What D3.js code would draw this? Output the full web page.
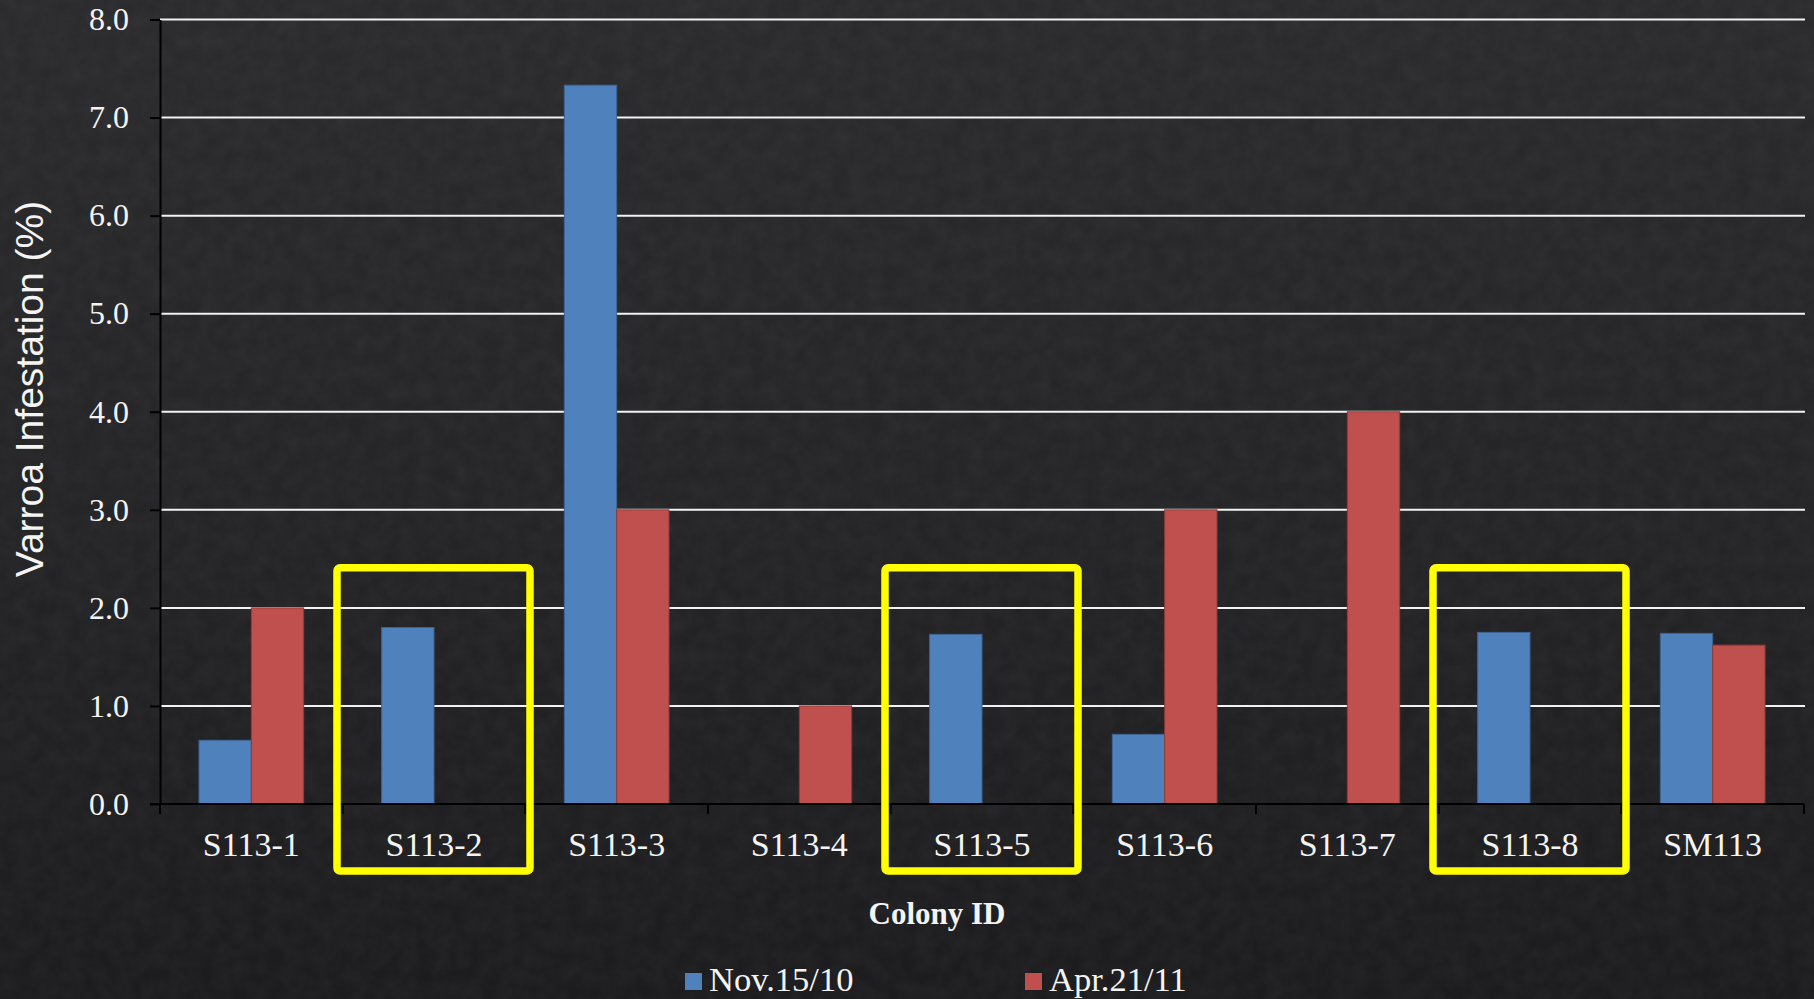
<!DOCTYPE html>
<html>
<head>
<meta charset="utf-8">
<script src="https://cdn.jsdelivr.net/npm/d3@7"></script>
<style>
  html, body { margin: 0; padding: 0; background: #222224; }
  svg { display: block; }
</style>
</head>
<body>
<svg id="chart" width="1814" height="999"></svg>
<script>
// Colony IDs along the x axis
const colonies = ["S113-1", "S113-2", "S113-3", "S113-4", "S113-5", "S113-6", "S113-7", "S113-8", "SM113"];
// Varroa infestation (%) per sampling date
const nov15 = [0.65, 1.80, 7.33, 0, 1.73, 0.71, 0, 1.75, 1.74];
const apr21 = [2.00, 0, 3.00, 1.00, 0, 3.00, 4.00, 0, 1.62];
const seriesNames = ["Nov.15/10", "Apr.21/11"];
const yTicks = [0, 1, 2, 3, 4, 5, 6, 7, 8];
// Colonies outlined in yellow
const highlighted = ["S113-2", "S113-5", "S113-8"];

const W = 1814, H = 999;
const margin = { top: 19.5, right: 10, bottom: 195, left: 160 };
const plotW = 1804 - margin.left;
const plotH = 804 - margin.top;

const svg = d3.select("#chart");

// Background: dark charcoal with a faint mottled texture
const defs = svg.append("defs");
const grad = defs.append("linearGradient").attr("id", "bg").attr("x1", 0).attr("y1", 0).attr("x2", 0).attr("y2", 1);
grad.append("stop").attr("offset", "0%").attr("stop-color", "#2b2b2d");
grad.append("stop").attr("offset", "55%").attr("stop-color", "#242426");
grad.append("stop").attr("offset", "100%").attr("stop-color", "#1c1c1e");
const tex = defs.append("filter").attr("id", "grain").attr("x", 0).attr("y", 0).attr("width", "100%").attr("height", "100%");
tex.append("feTurbulence").attr("type", "fractalNoise").attr("baseFrequency", 0.06).attr("numOctaves", 3).attr("seed", 7).attr("result", "n");
tex.append("feColorMatrix").attr("in", "n").attr("type", "matrix")
  .attr("values", "0 0 0 0 1  0 0 0 0 1  0 0 0 0 1  0 0 0 0.05 -0.012");
svg.append("rect").attr("width", W).attr("height", H).attr("fill", "url(#bg)");
svg.append("rect").attr("width", W).attr("height", H).attr("filter", "url(#grain)");

const g = svg.append("g").attr("transform", `translate(${margin.left},${margin.top})`);

const x0 = d3.scaleBand().domain(colonies).range([0, plotW]).paddingInner(0.427).paddingOuter(0.2135);
const x1 = d3.scaleBand().domain(seriesNames).range([0, x0.bandwidth()]).padding(0);
const y = d3.scaleLinear().domain([0, 8]).range([plotH, 0]);
const step = x0.step();
const colors = { "Nov.15/10": "#4f81bd", "Apr.21/11": "#c0504d" };
const edges = { "Nov.15/10": "#3d6594", "Apr.21/11": "#8f3b39" };

const serif = "'Liberation Serif', 'DejaVu Serif', serif";

// Horizontal gridlines
g.append("g").selectAll("line").data(yTicks.filter(d => d > 0)).join("line")
  .attr("x1", 0).attr("x2", plotW + 1)
  .attr("y1", d => y(d)).attr("y2", d => y(d))
  .attr("stroke", "#f2f2f2").attr("stroke-width", 2);

// Bars
const rows = colonies.map((c, i) => ({ colony: c, values: [
  { key: "Nov.15/10", value: nov15[i] }, { key: "Apr.21/11", value: apr21[i] }] }));
g.append("g").selectAll("g").data(rows).join("g")
  .attr("transform", d => `translate(${x0(d.colony)},0)`)
  .selectAll("rect").data(d => d.values.filter(v => v.value > 0)).join("rect")
  .attr("x", d => x1(d.key)).attr("width", x1.bandwidth())
  .attr("y", d => y(d.value)).attr("height", d => y(0) - y(d.value))
  .attr("fill", d => colors[d.key])
  .attr("stroke", d => edges[d.key]).attr("stroke-width", 1);

// Y axis
const yAxis = g.append("g").call(d3.axisLeft(y).tickValues(yTicks).tickFormat(d3.format(".1f")).tickSize(10).tickSizeOuter(0));
yAxis.select(".domain").attr("stroke", "#000").attr("stroke-width", 2);
yAxis.selectAll(".tick line").attr("stroke", "#000").attr("stroke-width", 2);
yAxis.selectAll(".tick text").attr("x", -31).attr("fill", "#f4f4f4")
  .style("font-family", serif).style("font-size", "32px");

// X axis: category boundary ticks plus centred labels
const xAxisG = g.append("g").attr("transform", `translate(0,${plotH})`);
xAxisG.append("line").attr("x1", -10).attr("x2", plotW).attr("y1", 0).attr("y2", 0)
  .attr("stroke", "#000").attr("stroke-width", 2);
const bounds = d3.range(colonies.length + 1).map(i => i * step);
xAxisG.selectAll("line.b").data(bounds).join("line").attr("class", "b")
  .attr("x1", d => d).attr("x2", d => d).attr("y1", 0).attr("y2", 10)
  .attr("stroke", "#000").attr("stroke-width", 2);
xAxisG.selectAll("text").data(colonies).join("text")
  .attr("x", d => x0(d) + x0.bandwidth() / 2).attr("y", 52)
  .attr("text-anchor", "middle").attr("fill", "#f4f4f4")
  .style("font-family", serif).style("font-size", "34px")
  .text(d => d);

// Yellow highlight boxes
g.append("g").selectAll("rect").data(highlighted).join("rect")
  .attr("x", d => x0(d) + x0.bandwidth() / 2 - 97)
  .attr("width", 193)
  .attr("y", y(2.41)).attr("height", y(0) + 67 - y(2.41))
  .attr("rx", 3)
  .attr("fill", "none").attr("stroke", "#ffff00").attr("stroke-width", 7.5);

// Axis titles
svg.append("text").attr("x", 937).attr("y", 924).attr("text-anchor", "middle")
  .attr("fill", "#f4f4f4").style("font-family", serif).style("font-size", "31px").style("font-weight", "bold")
  .text("Colony ID");
svg.append("text").attr("transform", "translate(43,389) rotate(-90)").attr("text-anchor", "middle")
  .attr("fill", "#f4f4f4").style("font-family", "'Liberation Sans', Arial, sans-serif").style("font-size", "39px")
  .text("Varroa Infestation (%)");

// Legend
const legendX = [685, 1025];
const legend = svg.append("g").selectAll("g").data(seriesNames).join("g")
  .attr("transform", (d, i) => `translate(${legendX[i]},973)`);
legend.append("rect").attr("width", 17).attr("height", 17).attr("fill", d => colors[d]);
legend.append("text").attr("x", 24).attr("y", 18).attr("fill", "#f4f4f4")
  .style("font-family", serif).style("font-size", "34.5px").text(d => d);
</script>
</body>
</html>
